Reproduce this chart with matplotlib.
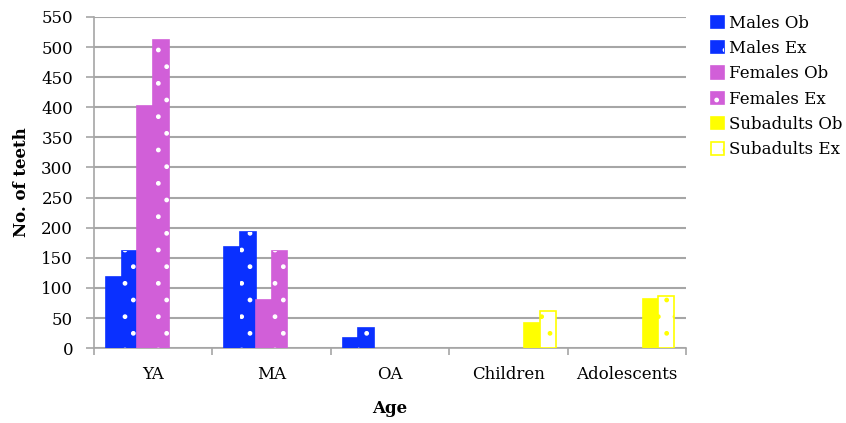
import matplotlib
matplotlib.use("Agg")
import matplotlib.pyplot as plt
import numpy as np
from matplotlib.patches import Patch
from matplotlib.legend_handler import HandlerTuple

categories = ["YA", "MA", "OA", "Children", "Adolescents"]
series = ["Males Ob", "Males Ex", "Females Ob", "Females Ex", "Subadults Ob", "Subadults Ex"]
males_ob = [118, 168, 16, 0, 0]
males_ex = [161, 193, 33, 0, 0]
females_ob = [402, 80, 0, 0, 0]
females_ex = [512, 161, 0, 0, 0]
subadults_ob = [0, 0, 0, 41, 81]
subadults_ex = [0, 0, 0, 61, 86]
values = [males_ob, males_ex, females_ob, females_ex, subadults_ob, subadults_ex]

blue = "#0A30FF"
pink = "#D15FD8"
yellow = "#FFFF00"
# (face, edge, dot colour or None)
styles = [
    (blue, blue, None),
    (blue, blue, "white"),
    (pink, pink, None),
    (pink, pink, "white"),
    (yellow, yellow, None),
    ("white", yellow, yellow),
]

plt.rcParams["font.family"] = ["DejaVu Serif"]
plt.rcParams["hatch.linewidth"] = 1.0
fs = 12

fig = plt.figure(figsize=(8.46, 4.23), dpi=100)
ax = fig.add_axes([0.111, 0.177, 0.700, 0.783])

x = np.arange(len(categories))
w = 1 / 7.5
grid_c = "#A6A6A6"

for i, vals in enumerate(values):
    face, edge, dots = styles[i]
    vals = np.array(vals, dtype=float)
    keep = vals > 0
    pos = (x + (i - 2.5) * w)[keep]
    ax.bar(pos, vals[keep], w, color=face, edgecolor=edge, linewidth=1.2, zorder=3)
    if dots:
        ax.bar(pos, vals[keep], w, color="none", edgecolor=dots, hatch=".", linewidth=0, zorder=4)

ax.set_xlim(-0.5, len(categories) - 0.5)
ax.set_ylim(0, 550)
ax.set_yticks(np.arange(0, 551, 50))
ax.yaxis.grid(True, color=grid_c, linewidth=1.5, zorder=0)
ax.set_axisbelow(True)

ax.set_xticks(x)
ax.set_xticklabels(categories)
ax.set_xticks(np.arange(-0.5, len(categories)), minor=True)
ax.tick_params(axis="x", which="major", length=0, pad=13, labelsize=fs)
ax.tick_params(axis="x", which="minor", length=5, color=grid_c, width=1.2)
ax.tick_params(axis="y", length=6, color=grid_c, width=1.2, labelsize=fs, pad=9)

for s in ["top", "right"]:
    ax.spines[s].set_visible(False)
for s in ["left", "bottom"]:
    ax.spines[s].set_color(grid_c)
    ax.spines[s].set_linewidth(1.2)

ax.set_ylabel("No. of teeth", fontsize=fs, fontweight="bold", labelpad=8)
ax.set_xlabel("Age", fontsize=fs, fontweight="bold", labelpad=12)

handles = []
for i, name in enumerate(series):
    face, edge, dots = styles[i]
    base = Patch(facecolor=face, edgecolor=edge, linewidth=1.2)
    if dots:
        handles.append((base, Patch(facecolor="none", edgecolor=dots, hatch=".", linewidth=0)))
    else:
        handles.append(base)
leg = fig.legend(handles=handles, labels=series, loc="upper left",
                 bbox_to_anchor=(0.827, 0.993),
                 handler_map={tuple: HandlerTuple(ndivide=1, pad=0)},
                 frameon=False, fontsize=fs, handlelength=0.75, handleheight=0.75,
                 handletextpad=0.3, labelspacing=0.5, borderpad=0.2)

fig.savefig("out.png", dpi=100)
